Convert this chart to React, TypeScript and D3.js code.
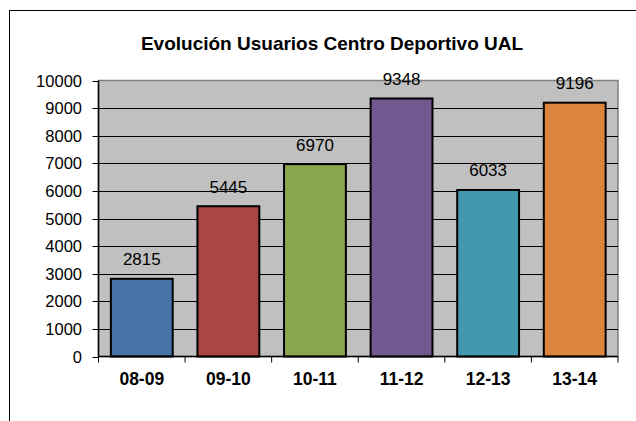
import React, { useRef, useEffect } from 'react';
import { select, scaleBand, scaleLinear, range } from 'd3';

const seasons = ['08-09', '09-10', '10-11', '11-12', '12-13', '13-14'];
const users = [2815, 5445, 6970, 9348, 6033, 9196];
const barColors = ['#4572A7', '#AA4643', '#89A54E', '#71588F', '#4198AF', '#DB843D'];
const yTicks = range(0, 10001, 1000);
const title = 'Evolución Usuarios Centro Deportivo UAL';

const W = 636;
const H = 421;
const FONT = 'Liberation Sans, Arial, sans-serif';

function App() {
  const svgRef = useRef<SVGSVGElement>(null);

  useEffect(() => {
    const svg = select(svgRef.current);
    svg.selectAll('*').remove();

    const left = 98.5, right = 618, top = 80.5, bottom = 356.5;

    const xScale = scaleBand<string>()
      .domain(seasons)
      .range([left, right])
      .paddingInner(0.2857)
      .paddingOuter(0.1429);

    const yScale = scaleLinear().domain([0, 10000]).range([bottom, top]);

    // chart area frame
    svg.append('rect')
      .attr('x', 9.5).attr('y', 10.5)
      .attr('width', 700).attr('height', 500)
      .attr('fill', '#fff').attr('stroke', '#000').attr('stroke-width', 1);

    svg.append('text')
      .attr('x', 332).attr('y', 50)
      .attr('text-anchor', 'middle')
      .attr('font-family', FONT).attr('font-weight', 'bold')
      .attr('font-size', 19)
      .text(title);

    // plot area
    svg.append('rect')
      .attr('x', left).attr('y', top)
      .attr('width', right - left).attr('height', bottom - top)
      .attr('fill', '#C0C0C0').attr('stroke', '#808080').attr('stroke-width', 1.5);

    const grid = svg.append('g');
    grid.selectAll('line')
      .data(yTicks.filter(d => d > 0 && d < 10000))
      .join('line')
      .attr('x1', left).attr('x2', right)
      .attr('y1', d => Math.round(yScale(d)) + 0.5)
      .attr('y2', d => Math.round(yScale(d)) + 0.5)
      .attr('stroke', '#000').attr('stroke-width', 1);

    // y axis
    const yAxis = svg.append('g');
    yAxis.append('line')
      .attr('x1', left).attr('x2', left)
      .attr('y1', top).attr('y2', bottom)
      .attr('stroke', '#000').attr('stroke-width', 1.5);
    yAxis.selectAll('line.tick')
      .data(yTicks)
      .join('line')
      .attr('class', 'tick')
      .attr('x1', left - 6).attr('x2', left)
      .attr('y1', d => Math.round(yScale(d)) + 0.5)
      .attr('y2', d => Math.round(yScale(d)) + 0.5)
      .attr('stroke', '#000');
    yAxis.selectAll('text')
      .data(yTicks)
      .join('text')
      .attr('x', 82)
      .attr('y', d => yScale(d) + 6)
      .attr('text-anchor', 'end')
      .attr('font-family', FONT).attr('font-size', 16.5)
      .attr('fill', '#000')
      .text(d => String(d));

    // bars
    svg.append('g')
      .selectAll('rect')
      .data(users)
      .join('rect')
      .attr('x', (d, i) => xScale(seasons[i])!)
      .attr('y', d => yScale(d))
      .attr('width', xScale.bandwidth())
      .attr('height', d => bottom - yScale(d))
      .attr('fill', (d, i) => barColors[i])
      .attr('stroke', '#000').attr('stroke-width', 2);

    svg.append('g')
      .selectAll('text')
      .data(users)
      .join('text')
      .attr('x', (d, i) => xScale(seasons[i])! + xScale.bandwidth() / 2)
      .attr('y', d => yScale(d) - 13.5)
      .attr('text-anchor', 'middle')
      .attr('font-family', FONT).attr('font-size', 17)
      .attr('fill', '#000')
      .text(d => String(d));

    // x axis
    const xAxis = svg.append('g');
    xAxis.append('line')
      .attr('x1', left).attr('x2', right)
      .attr('y1', bottom).attr('y2', bottom)
      .attr('stroke', '#000').attr('stroke-width', 1.5);
    const step = xScale.step();
    xAxis.selectAll('line.tick')
      .data(range(seasons.length + 1))
      .join('line')
      .attr('class', 'tick')
      .attr('x1', i => left + i * step).attr('x2', i => left + i * step)
      .attr('y1', bottom).attr('y2', bottom + 6)
      .attr('stroke', '#000');
    xAxis.selectAll('text')
      .data(seasons)
      .join('text')
      .attr('x', d => xScale(d)! + xScale.bandwidth() / 2)
      .attr('y', 384.5)
      .attr('text-anchor', 'middle')
      .attr('font-family', FONT).attr('font-weight', 'bold')
      .attr('font-size', 17.5)
      .attr('fill', '#000')
      .text(d => d);
  }, []);

  return (
    <svg
      ref={svgRef}
      width={W}
      height={H}
      style={{ position: 'absolute', left: 0, top: 0, background: '#fff' }}
    />
  );
}

export default App;
